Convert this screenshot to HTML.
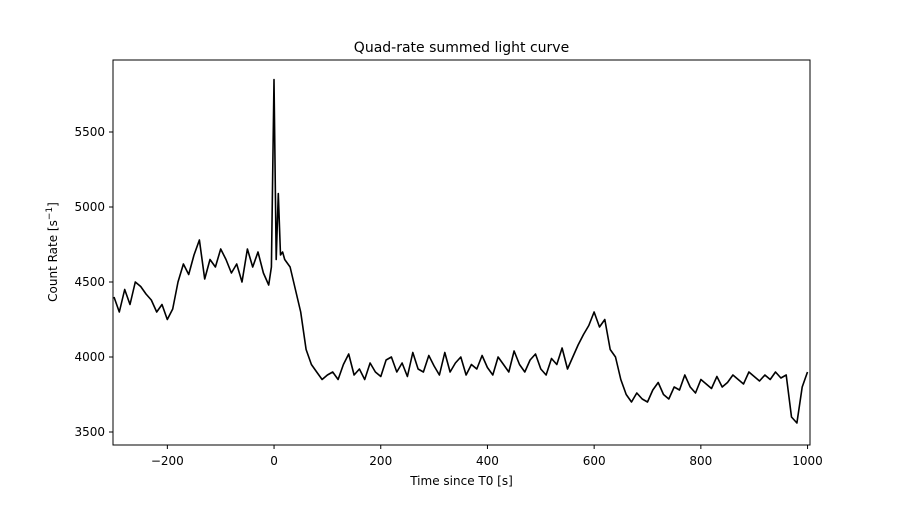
<!DOCTYPE html>
<html><head><meta charset="utf-8"><style>
body{margin:0;background:#fff;font-family:"Liberation Sans","DejaVu Sans",sans-serif}
svg text{font-family:"DejaVu Sans","Liberation Sans",sans-serif;font-size:12px;fill:#000}
</style></head><body>
<svg id="chart" width="900" height="500" xmlns="http://www.w3.org/2000/svg">
<rect width="900" height="500" fill="#fff"/>
<text x="461.5" y="52" text-anchor="middle" style="font-size:14px">Quad-rate summed light curve</text>
<g id="ticks"></g>
<path id="curve" fill="none" stroke="#000" stroke-width="1.6" stroke-linejoin="round"/>
<rect x="113" y="60" width="697" height="385" fill="none" stroke="#000" stroke-width="1"/>
<text x="461.5" y="485" text-anchor="middle">Time since T0 [s]</text>
<text transform="translate(57,252) rotate(-90)" text-anchor="middle">Count Rate [s<tspan dy="-5" style="font-size:9px">−1</tspan><tspan dy="5">]</tspan></text>
</svg>
<script>
const times=[-300,-290,-280,-270,-260,-250,-240,-230,-220,-210,-200,-190,-180,-170,-160,-150,-140,-130,-120,-110,-100,-90,-80,-70,-60,-50,-40,-30,-20,-10,-5,0,4,8,12,16,20,30,40,50,60,70,80,90,100,110,120,130,140,150,160,170,180,190,200,210,220,230,240,250,260,270,280,290,300,310,320,330,340,350,360,370,380,390,400,410,420,430,440,450,460,470,480,490,500,510,520,530,540,550,560,570,580,590,600,610,620,630,640,650,660,670,680,690,700,710,720,730,740,750,760,770,780,790,800,810,820,830,840,850,860,870,880,890,900,910,920,930,940,950,960,970,980,990,1000];
const rates=[4400,4300,4450,4350,4500,4470,4420,4380,4300,4350,4250,4320,4500,4620,4550,4680,4780,4520,4650,4600,4720,4650,4560,4620,4500,4720,4600,4700,4560,4480,4600,5850,4650,5090,4680,4700,4650,4600,4450,4300,4050,3950,3900,3850,3880,3900,3850,3950,4020,3880,3920,3850,3960,3900,3870,3980,4000,3900,3960,3870,4030,3920,3900,4010,3940,3880,4030,3900,3960,4000,3880,3950,3920,4010,3930,3880,4000,3950,3900,4040,3950,3900,3980,4020,3920,3880,3990,3950,4060,3920,4000,4080,4150,4210,4300,4200,4250,4050,4000,3850,3750,3700,3760,3720,3700,3780,3830,3750,3720,3800,3780,3880,3800,3760,3850,3820,3790,3870,3800,3830,3880,3850,3820,3900,3870,3840,3880,3850,3900,3860,3880,3600,3560,3800,3900];
const xTicks=[-200,0,200,400,600,800,1000];
const yTicks=[3500,4000,4500,5000,5500];
const X=t=>114+(t+300)*(106.7/200);
const Y=v=>357-(v-4000)*(75/500);
const n=Math.min(times.length,rates.length);
let d='';
for(let i=0;i<n;i++){d+=(i?'L':'M')+X(times[i]).toFixed(1)+','+Y(rates[i]).toFixed(1)+' ';}
document.getElementById('curve').setAttribute('d',d);
const g=document.getElementById('ticks');
const ns='http://www.w3.org/2000/svg';
xTicks.forEach(t=>{
  const l=document.createElementNS(ns,'line');
  
  
  l.setAttribute('x1',X(t));l.setAttribute('x2',X(t));l.setAttribute('y1',445);l.setAttribute('y2',449);l.setAttribute('stroke','#000');
  g.appendChild(l);
  const tx=document.createElementNS(ns,'text');
  
  
  tx.setAttribute('x',X(t));tx.setAttribute('y',465);tx.setAttribute('text-anchor','middle');
  tx.textContent=t<0?'−'+(-t):String(t);
  g.appendChild(tx);
});
yTicks.forEach(v=>{
  const l=document.createElementNS(ns,'line');
  
  
  l.setAttribute('x1',109);l.setAttribute('x2',113);l.setAttribute('y1',Y(v));l.setAttribute('y2',Y(v));l.setAttribute('stroke','#000');
  g.appendChild(l);
  const tx=document.createElementNS(ns,'text');
  
  
  tx.setAttribute('x',105);tx.setAttribute('y',Y(v)+4);tx.setAttribute('text-anchor','end');
  tx.textContent=String(v);
  g.appendChild(tx);
});
</script>
</body></html>
